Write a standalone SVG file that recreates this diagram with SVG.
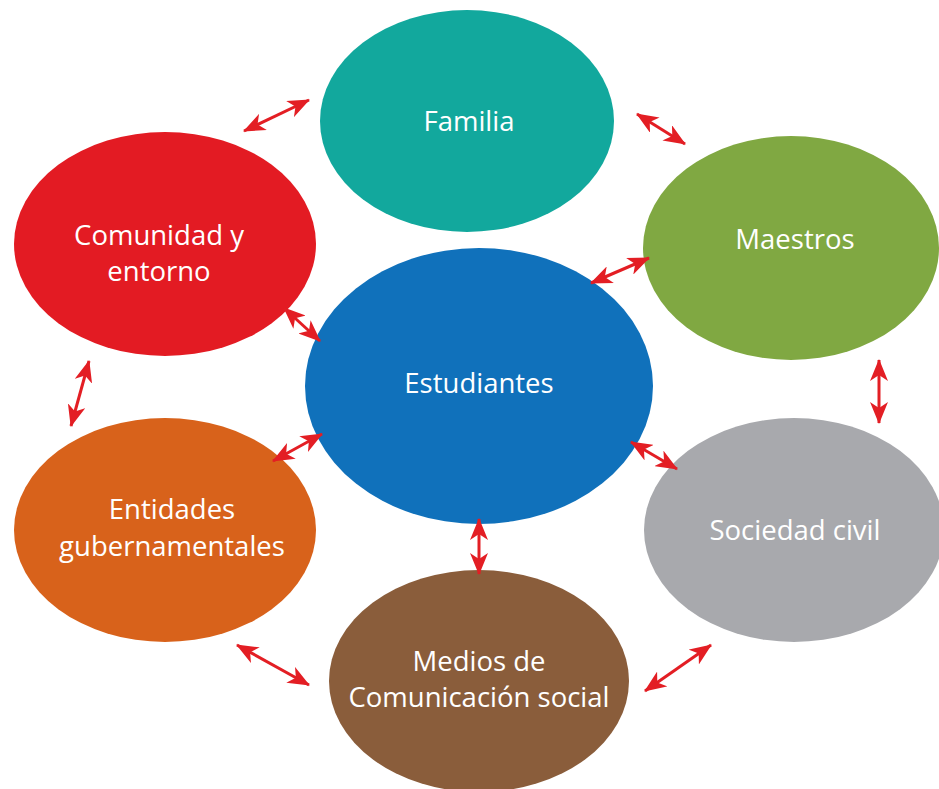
<svg xmlns="http://www.w3.org/2000/svg" width="939" height="789" viewBox="0 0 939 789">
<style>
.t{font-family:"Open Sans","Noto Sans",sans-serif;font-size:27.5px;fill:#fff;text-anchor:middle}
.c{stroke:#e31e24;stroke-width:3;fill:none;marker-start:url(#a);marker-end:url(#a)}
</style>
<defs>
<marker id="a" viewBox="0 0 22 18" refX="21" refY="9" markerWidth="22" markerHeight="18" markerUnits="userSpaceOnUse" orient="auto-start-reverse">
<path d="M0,0 L22,9 L0,18 L6,9 Z" fill="#e31e24"/>
</marker>
</defs>
<rect width="939" height="789" fill="#fff"/>
<g id="familia"><ellipse cx="467" cy="121" rx="147" ry="111" fill="#12a89d"/><text class="t" x="469" y="131">Familia</text></g>
<g id="maestros"><ellipse cx="791" cy="248" rx="148" ry="112" fill="#80a842"/><text class="t" x="795" y="249">Maestros</text></g>
<g id="comunidad"><ellipse cx="165" cy="244" rx="151" ry="112" fill="#e31b23"/><text class="t" x="159" y="245">Comunidad y</text><text class="t" x="159" y="281">entorno</text></g>
<g id="estudiantes"><ellipse cx="479" cy="386" rx="174" ry="138" fill="#1071bb"/><text class="t" x="479" y="393">Estudiantes</text></g>
<g id="entidades"><ellipse cx="165" cy="530" rx="151" ry="112" fill="#d8621b"/><text class="t" x="172" y="519">Entidades</text><text class="t" x="172" y="556">gubernamentales</text></g>
<g id="sociedad"><ellipse cx="794" cy="530" rx="150" ry="112" fill="#a8a9ad"/><text class="t" x="795" y="540">Sociedad civil</text></g>
<g id="medios"><ellipse cx="479" cy="681" rx="150" ry="111" fill="#8a5d3b"/><text class="t" x="479" y="671">Medios de</text><text class="t" x="479" y="707">Comunicación social</text></g>
<g id="connectors">
<line class="c" x1="244" y1="131" x2="309" y2="100"/>
<line class="c" x1="637" y1="114" x2="685" y2="144"/>
<line class="c" x1="591" y1="283" x2="649" y2="258"/>
<line class="c" x1="284" y1="308" x2="320" y2="341"/>
<line class="c" x1="879" y1="360" x2="879" y2="423"/>
<line class="c" x1="89" y1="361" x2="71" y2="426"/>
<line class="c" x1="273" y1="461" x2="322" y2="434"/>
<line class="c" x1="631" y1="442" x2="677" y2="469"/>
<line class="c" x1="479" y1="519" x2="479" y2="574"/>
<line class="c" x1="237" y1="645" x2="309" y2="685"/>
<line class="c" x1="645" y1="691" x2="711" y2="645"/>
</g>
</svg>
